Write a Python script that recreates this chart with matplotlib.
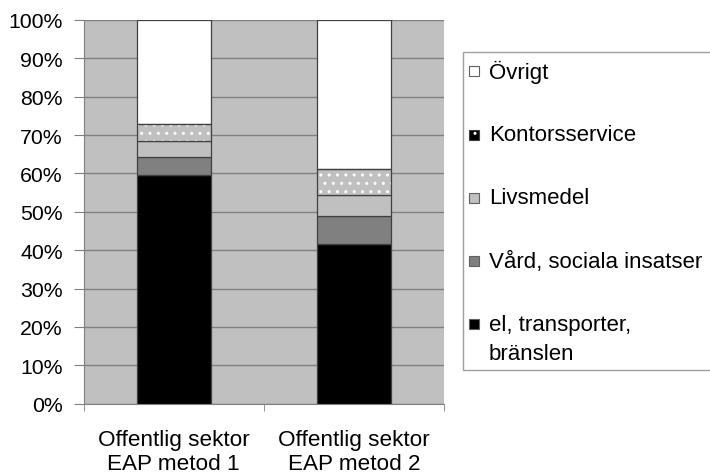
import matplotlib
matplotlib.use("Agg")
import matplotlib.pyplot as plt
from matplotlib.patches import Rectangle
import numpy as np

plt.rcParams['font.family'] = ['Liberation Sans', 'DejaVu Sans']

categories = ["Offentlig sektor\nEAP metod 1", "Offentlig sektor\nEAP metod 2"]
series_names = ["el, transporter,\nbränslen", "Vård, sociala insatser", "Livsmedel", "Kontorsservice", "Övrigt"]
el_transport = [59.5, 41.7]
vard = [4.8, 7.1]
livsmedel = [4.1, 5.6]
kontor = [4.5, 6.8]
ovrigt = [27.1, 38.8]
yticks = [0, 10, 20, 30, 40, 50, 60, 70, 80, 90, 100]

series = [el_transport, vard, livsmedel, kontor, ovrigt]
colors = ["#000000", "#808080", "#c0c0c0", "#c0c0c0", "#ffffff"]
hatches = [None, None, None, "..", None]

W, H = 710, 477
fig = plt.figure(figsize=(W / 100, H / 100), dpi=100)
ax_l, ax_r, ax_t, ax_b = 83.5, 444, 21, 404.7
ax = fig.add_axes([ax_l / W, (H - ax_b) / H, (ax_r - ax_l) / W, (ax_b - ax_t) / H])
ax.set_facecolor("#c0c0c0")

x = np.arange(len(categories))
bottom = np.zeros(len(categories))
for vals, c, h in zip(series, colors, hatches):
    vals = np.array(vals)
    if h:
        ax.bar(x, vals, 0.41, bottom=bottom, color=c, edgecolor="white", hatch=h, linewidth=0, zorder=3)
        ax.bar(x, vals, 0.41, bottom=bottom, facecolor="none", edgecolor="#404040", linewidth=0.9, zorder=4)
    else:
        ax.bar(x, vals, 0.41, bottom=bottom, color=c, edgecolor="#404040", linewidth=0.9, zorder=3)
    bottom += vals

ax.set_xlim(-0.5, 1.5)
ax.set_ylim(0, 100)
ax.set_yticks(yticks)
ax.set_yticklabels([f"{v}%" for v in yticks], fontsize=15.3)
ax.yaxis.grid(True, color="#808080", linewidth=1.0, zorder=0)
ax.set_axisbelow(True)
ax.tick_params(axis="y", length=7, color="#808080", pad=8)
ax.set_xticks(x)
ax.set_xticklabels(categories, fontsize=16.2, linespacing=1.2)
ax.set_xticks([-0.5, 0.5, 1.5], minor=True)
ax.tick_params(axis="x", which="major", length=0, pad=18)
ax.tick_params(axis="x", which="minor", length=5, color="#808080")
for s in ["top", "right"]:
    ax.spines[s].set_visible(False)
for s in ["left", "bottom"]:
    ax.spines[s].set_color("#808080")

# legend (manual, reversed order)
def fx(px):
    return px / W

def fy(py):
    return 1 - py / H

lg_l, lg_t, lg_b, lg_r = 463, 53, 371, 712
fig.patches.append(Rectangle((fx(lg_l), fy(lg_b)), fx(lg_r - lg_l), (lg_b - lg_t) / H,
                             transform=fig.transFigure, facecolor="white", edgecolor="#a0a0a0",
                             linewidth=1.0))
ys = [72, 136, 199, 262, 325]
leg_items = list(zip(series_names, colors, hatches))[::-1]
for (name, c, h), yc in zip(leg_items, ys):
    ms = 10
    if h:
        fig.patches.append(Rectangle((fx(469), fy(yc + ms / 2)), fx(ms), ms / H,
                                     transform=fig.transFigure, facecolor="black",
                                     edgecolor="white", hatch="..", linewidth=0))
        fig.patches.append(Rectangle((fx(469), fy(yc + ms / 2)), fx(ms), ms / H,
                                     transform=fig.transFigure, facecolor="none",
                                     edgecolor="#404040", linewidth=0.8))
    else:
        fig.patches.append(Rectangle((fx(469), fy(yc + ms / 2)), fx(ms), ms / H,
                                     transform=fig.transFigure, facecolor=c,
                                     edgecolor="#606060", linewidth=0.8))
    if "\n" in name:
        fig.text(fx(489), fy(yc - 10), name, fontsize=16, va="top", ha="left", linespacing=1.5)
    else:
        fig.text(fx(489), fy(yc), name, fontsize=16, va="center", ha="left")

fig.savefig("out.png", dpi=100)
